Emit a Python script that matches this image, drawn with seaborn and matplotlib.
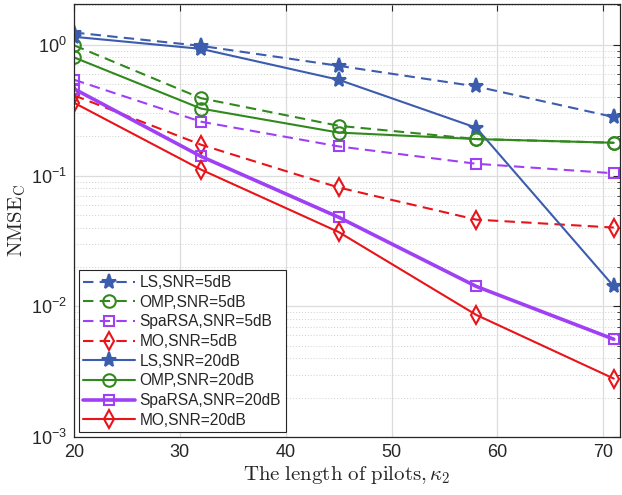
import numpy as np
import pandas as pd
import matplotlib
matplotlib.use("Agg")
import matplotlib.pyplot as plt
import seaborn as sns
from matplotlib.ticker import LogLocator, NullFormatter

# --- data ---
pilots = [20, 32, 45, 58, 71]

ls_5 = [1.24, 0.98, 0.69, 0.48, 0.28]
omp_5 = [0.99, 0.39, 0.24, 0.19, 0.178]
sparsa_5 = [0.54, 0.258, 0.167, 0.123, 0.104]
mo_5 = [0.41, 0.172, 0.081, 0.046, 0.040]

ls_20 = [1.15, 0.93, 0.54, 0.232, 0.0142]
omp_20 = [0.80, 0.325, 0.213, 0.19, 0.178]
sparsa_20 = [0.46, 0.14, 0.048, 0.0142, 0.0056]
mo_20 = [0.36, 0.111, 0.037, 0.0086, 0.0028]

c_ls = '#3C5CAE'
c_omp = '#31891E'
c_sp = '#A040F5'
c_mo = '#E8141A'

series = [
    ("LS,SNR=5dB", ls_5, c_ls, '*', True, '--', 1.5, 11),
    ("OMP,SNR=5dB", omp_5, c_omp, 'o', False, '--', 1.5, 9),
    ("SpaRSA,SNR=5dB", sparsa_5, c_sp, 's', False, '--', 1.5, 7),
    ("MO,SNR=5dB", mo_5, c_mo, 'd', False, '--', 1.5, 9),
    ("LS,SNR=20dB", ls_20, c_ls, '*', True, '-', 1.5, 11),
    ("OMP,SNR=20dB", omp_20, c_omp, 'o', False, '-', 1.5, 9),
    ("SpaRSA,SNR=20dB", sparsa_20, c_sp, 's', False, '-', 2.6, 7),
    ("MO,SNR=20dB", mo_20, c_mo, 'd', False, '-', 1.5, 9),
]

sns.set_theme(style="white")
plt.rcParams.update({
    'font.family': ['Liberation Sans', 'DejaVu Sans'],
    'mathtext.fontset': 'cm',
    'xtick.direction': 'in',
    'ytick.direction': 'in',
    'xtick.top': True,
    'ytick.right': True,
})

fig = plt.figure(figsize=(6.22, 4.95), dpi=100)
ax = fig.add_axes([0.119, 0.117, 0.878, 0.875])

for name, vals, col, mk, filled, ls, lw, ms in series:
    df = pd.DataFrame({'pilots': pilots, 'nmse': vals})
    line_kw = dict(dashes=(5, 3)) if ls == '--' else dict(linestyle='-')
    sns.lineplot(data=df, x='pilots', y='nmse', ax=ax, color=col,
                 linewidth=lw, marker=mk, markersize=ms,
                 markerfacecolor=col if filled else 'none',
                 markeredgecolor=col, markeredgewidth=1.5, label=name,
                 **line_kw)

ax.set_yscale('log')
ax.set_xlim(20, 71.6)
ax.set_ylim(1e-3, 2.05)
ax.set_xticks([20, 30, 40, 50, 60, 70])
ax.yaxis.set_major_locator(LogLocator(base=10, numticks=10))
ax.yaxis.set_minor_locator(LogLocator(base=10, subs=np.arange(2, 10), numticks=20))
ax.yaxis.set_minor_formatter(NullFormatter())

ax.grid(True, which='major', color='#dcdcdc', linewidth=0.9, linestyle='-')
ax.grid(True, which='minor', axis='y', color='#cfcfcf', linewidth=0.7, linestyle=(0, (1, 2)))
ax.set_axisbelow(True)

for sp in ax.spines.values():
    sp.set_color('#262626')
    sp.set_linewidth(0.9)
ax.tick_params(axis='both', which='major', labelsize=13, length=5, color='#262626',
               labelcolor='#262626', width=0.8, pad=5)
ax.tick_params(axis='y', which='minor', length=2.5, color='#262626', width=0.6)

ax.set_xlabel(r'$\mathrm{The\ length\ of\ pilots},\kappa_2$', fontsize=15, color='#262626', labelpad=2)
ax.set_ylabel(r'$\mathrm{NMSE}_\mathrm{C}$', fontsize=15, color='#262626', labelpad=2)

leg = ax.legend(loc='lower left', fontsize=11.2, frameon=True, fancybox=False,
                edgecolor='#262626', framealpha=1, handlelength=3.3,
                borderpad=0.3, labelspacing=0.3, handletextpad=0.3,
                borderaxespad=0.3)
leg.get_frame().set_linewidth(0.8)

fig.savefig('out.png', dpi=100)
